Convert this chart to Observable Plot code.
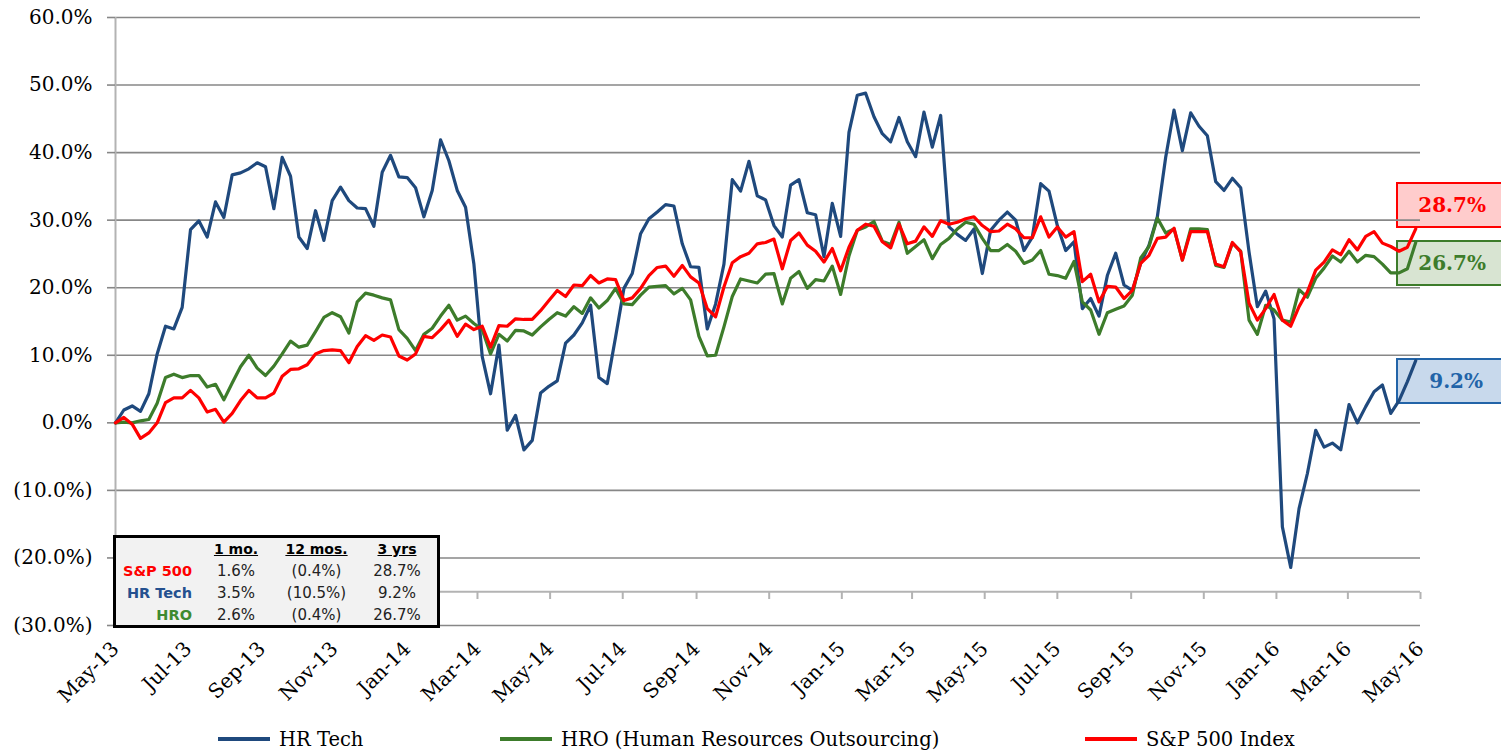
<!DOCTYPE html>
<html>
<head>
<meta charset="utf-8">
<script src="https://cdn.jsdelivr.net/npm/d3@7"></script>
<script src="https://cdn.jsdelivr.net/npm/@observablehq/plot@0.6"></script>
<style>
  body { margin: 0; background: #fff; }
  #wrap { position: relative; width: 1501px; height: 754px; overflow: hidden; font-family: "DejaVu Serif", serif; }
  #chart { position: absolute; left: 0; top: 0; z-index: 2; }
  .endbox { position: absolute; z-index: 1; box-sizing: border-box; width: 112px; height: 46px; border: 2px solid;
            font-weight: bold; font-size: 20px; line-height: 42px; padding-left: 20px; }
  #stats { position: absolute; z-index: 3; left: 113px; top: 535px; width: 327px; height: 93px; box-sizing: border-box;
           border: 3px solid #000; background: #f2f2f2; font-family: "DejaVu Sans", sans-serif; font-size: 15px;
           display: grid; grid-template-columns: 80px 80px 81px 80px; grid-auto-rows: 22px; align-items: center; color: #222; }
  #stats div { text-align: center; }
  #stats .lab { text-align: right; padding-right: 4px; font-weight: bold; font-size: 14.5px; }
  #stats .hd { font-weight: bold; text-decoration: underline; color: #000; font-size: 14px; }
  #legend { position: absolute; left: 0; top: 705px; width: 1501px; height: 49px; font-size: 19.5px; }
  #legend .item { position: absolute; top: 22px; display: flex; align-items: center; height: 24px; }
  #legend .sw { width: 52px; height: 4px; margin-right: 9px; }
</style>
</head>
<body>
<div id="wrap">
  <div id="chart"></div>
  <div id="stats"></div>
  <div id="legend"></div>
</div>
<script>
// weekly cumulative return (%) since May-2013
const hrTech = [
  0, 1.9, 2.5, 1.7, 4.3, 10.2, 14.3, 13.9, 17.1, 28.6,
  29.9, 27.5, 32.7, 30.4, 36.7, 37.0, 37.6, 38.5, 37.9, 31.7,
  39.3, 36.5, 27.5, 25.8, 31.4, 27.0, 32.9, 34.9, 32.9, 31.8,
  31.7, 29.1, 37.1, 39.6, 36.4, 36.3, 34.8, 30.5, 34.4, 41.9,
  38.8, 34.4, 31.9, 23.5, 9.8, 4.3, 11.5, -1.1, 1.1, -4.0,
  -2.6, 4.4, 5.4, 6.2, 11.8, 13.0, 14.8, 17.4, 6.7, 5.8,
  12.7, 19.9, 22.1, 28.0, 30.2, 31.2, 32.3, 32.1, 26.5, 23.1,
  23.0, 13.9, 17.6, 23.5, 36.0, 34.3, 38.7, 33.6, 33.0, 29.2,
  27.5, 35.2, 36.0, 31.1, 30.8, 24.6, 32.5, 27.6, 43.0, 48.5,
  48.8, 45.3, 42.8, 41.6, 45.2, 41.6, 39.4, 46.0, 40.8, 45.5,
  29.0, 27.9, 27.0, 28.7, 22.1, 28.5, 30.0, 31.2, 30.0, 25.5,
  27.5, 35.4, 34.3, 29.2, 25.5, 26.8, 16.9, 18.4, 15.8, 21.8,
  25.1, 20.4, 19.6, 23.6, 26.3, 30.5, 39.3, 46.3, 40.3, 45.9,
  43.9, 42.5, 35.7, 34.4, 36.2, 34.8, 25.3, 17.2, 19.5, 15.4,
  -15.4, -21.4, -12.7, -7.5, -1.1, -3.6, -3.0, -4.0, 2.7, 0.0,
  2.4, 4.6, 5.6, 1.4, 3.3, 6.1, 9.2
];
const hro = [
  0, 0.1, 0, 0.3, 0.5, 2.9, 6.7, 7.2, 6.7, 7.0,
  7.0, 5.3, 5.7, 3.4, 5.9, 8.3, 10.0, 8.1, 7.0, 8.4,
  10.2, 12.1, 11.2, 11.5, 13.5, 15.6, 16.3, 15.7, 13.3, 17.9,
  19.2, 18.9, 18.5, 18.2, 13.8, 12.5, 10.7, 13.1, 14.0, 15.8,
  17.4, 15.2, 15.8, 14.7, 13.8, 10.2, 13.1, 12.1, 13.7, 13.6,
  13.0, 14.2, 15.3, 16.3, 15.8, 17.2, 16.2, 18.5, 17.0, 18.1,
  19.9, 17.6, 17.5, 18.9, 20.1, 20.2, 20.3, 19.1, 19.9, 18.2,
  12.8, 9.9, 10.0, 14.2, 18.7, 21.3, 21.0, 20.7, 22.0, 22.1,
  17.6, 21.4, 22.4, 19.9, 21.2, 21.0, 23.2, 19.0, 24.7, 28.5,
  29.0, 29.8, 26.9, 26.4, 29.7, 25.1, 26.1, 27.1, 24.3, 26.4,
  27.3, 28.7, 29.7, 29.4, 27.3, 25.5, 25.5, 26.4, 25.4, 23.6,
  24.1, 25.5, 22.0, 21.8, 21.4, 23.9, 17.9, 16.7, 13.1, 16.3,
  16.8, 17.3, 18.9, 24.4, 26.1, 30.3, 28.1, 28.7, 24.1, 28.7,
  28.7, 28.6, 23.3, 23.0, 26.6, 25.4, 15.2, 13.1, 17.4, 16.7,
  15.2, 14.9, 19.7, 18.6, 21.4, 22.9, 24.7, 23.8, 25.4, 23.8,
  24.8, 24.6, 23.5, 22.2, 22.2, 22.8, 26.7
];
const sp500 = [
  0, 0.8, -0.2, -2.3, -1.5, 0, 3.0, 3.7, 3.7, 4.8,
  3.7, 1.6, 2.0, 0.1, 1.4, 3.3, 4.8, 3.7, 3.7, 4.4,
  6.9, 7.9, 8.0, 8.6, 10.2, 10.7, 10.8, 10.7, 8.9, 11.3,
  12.9, 12.2, 13.0, 12.7, 9.9, 9.3, 10.2, 12.8, 12.6, 13.8,
  15.2, 12.8, 14.6, 13.8, 14.3, 11.2, 14.4, 14.3, 15.4, 15.3,
  15.3, 16.6, 18.1, 19.6, 18.7, 20.4, 20.3, 21.8, 20.7, 21.3,
  21.2, 18.1, 18.5, 19.9, 21.8, 23.0, 23.2, 21.7, 23.3, 21.6,
  20.7, 16.9, 15.7, 20.1, 23.7, 24.6, 25.1, 26.5, 26.7, 27.2,
  22.8, 27.0, 28.1, 26.3, 25.4, 23.8, 25.8, 22.5, 26.0, 28.5,
  29.4, 29.1, 26.8, 25.9, 29.4, 26.5, 26.9, 29.0, 27.6, 29.9,
  29.4, 29.7, 30.2, 30.5, 29.2, 28.3, 28.4, 29.4, 28.7, 27.4,
  27.4, 30.5, 27.5, 29.0, 27.5, 28.3, 20.9, 22.0, 17.9, 20.2,
  20.1, 18.4, 19.6, 23.6, 24.8, 27.3, 27.5, 28.8, 24.1, 28.3,
  28.3, 28.3, 23.5, 23.1, 26.7, 25.3, 17.7, 15.2, 16.9, 19.0,
  15.2, 14.3, 17.2, 19.4, 22.6, 23.8, 25.6, 24.9, 27.1, 25.6,
  27.6, 28.3, 26.6, 26.1, 25.4, 26.0, 28.7
];

const seriesNames = ["HR Tech", "HRO (Human Resources Outsourcing)", "S&P 500 Index"];
const seriesColors = ["#1f497d", "#3d7c2b", "#ff0000"];
const boxFills = ["#c8d9ec", "#d8e4d2", "#ffcccc"];
const boxStrokes = ["#2264a8", "#3d7c2b", "#ff0000"];

// returns table
const statCols = ["1 mo.", "12 mos.", "3 yrs"];
const statRows = ["S&P 500", "HR Tech", "HRO"];
const statColors = ["#ff0000", "#24508f", "#3e8a30"];
const statVals = [
  ["1.6%", "(0.4%)", "28.7%"],
  ["3.5%", "(10.5%)", "9.2%"],
  ["2.6%", "(0.4%)", "26.7%"]
];

const xStart = new Date(Date.UTC(2013, 4, 1));
const xEnd = new Date(Date.UTC(2016, 4, 1));
const dates = hrTech.map((_, i) => d3.utcDay.offset(xStart, 7 * i));
const xTicks = d3.utcMonth.every(2).range(xStart, d3.utcDay.offset(xEnd, 1));
const yTicks = d3.range(-30, 61, 10);
const axisCross = -25;

const fmtPct = v => v < 0 ? `(${Math.abs(v).toFixed(1)}%)` : `${v.toFixed(1)}%`;

const allSeries = [hrTech, hro, sp500];
const rows = allSeries.flatMap((vals, s) => vals.map((v, i) => ({date: dates[i], value: v, name: seriesNames[s]})));

const chart = Plot.plot({
  width: 1501,
  height: 705,
  marginLeft: 115,
  marginRight: 81,
  marginTop: 17,
  marginBottom: 80,
  style: {background: "transparent", fontFamily: "DejaVu Serif, serif", color: "#000", overflow: "visible"},
  x: {type: "utc", domain: [xStart, xEnd]},
  y: {domain: [-30, 60]},
  color: {domain: seriesNames, range: seriesColors},
  marks: [
    Plot.gridY(yTicks, {stroke: "#878787", strokeOpacity: 1, strokeWidth: 1.6}),
    Plot.ruleX([xStart], {stroke: "#b3b3b3", strokeWidth: 2}),
    Plot.ruleY([axisCross], {stroke: "#b3b3b3", strokeWidth: 2}),
    Plot.axisX(xTicks, {tickSize: 7, fill: "none", dy: -33, stroke: "#b3b3b3", strokeWidth: 2}),
    Plot.axisX(xTicks, {tickSize: 0, tickPadding: 20, tickRotate: -45, fontSize: 20,
      tickFormat: d3.utcFormat("%b-%y"), label: null}),
    Plot.axisY(yTicks, {tickSize: 8, tickPadding: 15, stroke: "#878787", strokeWidth: 1.6, fontSize: 20,
      tickFormat: fmtPct, label: null}),
    Plot.line(rows, {x: "date", y: "value", z: "name", stroke: "name", strokeWidth: 3.2})
  ]
});
document.getElementById("chart").append(chart);

// end-of-series callouts positioned with the chart's scales
const xs = chart.scale("x"), ys = chart.scale("y");
const wrap = document.getElementById("wrap");
allSeries.forEach((vals, s) => {
  const last = vals[vals.length - 1];
  const px = xs.apply(dates[dates.length - 1]);
  const py = ys.apply(last);
  const box = document.createElement("div");
  box.className = "endbox";
  box.style.left = (px - 19) + "px";
  box.style.top = (s === 2 ? py - 46 : py - 2) + "px";
  box.style.background = boxFills[s];
  box.style.borderColor = boxStrokes[s];
  box.style.color = boxStrokes[s];
  box.style.paddingLeft = (last < 10 ? 31 : 20) + "px";
  box.textContent = last.toFixed(1) + "%";
  wrap.append(box);
});

// stats table
const stats = document.getElementById("stats");
stats.insertAdjacentHTML("beforeend", `<div></div>` + statCols.map(c => `<div class="hd">${c}</div>`).join(""));
statRows.forEach((r, i) => {
  stats.insertAdjacentHTML("beforeend",
    `<div class="lab" style="color:${statColors[i]}">${r}</div>` + statVals[i].map(v => `<div>${v}</div>`).join(""));
});

// legend
const legendX = [218, 500, 1085];
const legend = document.getElementById("legend");
seriesNames.forEach((n, i) => {
  legend.insertAdjacentHTML("beforeend",
    `<div class="item" style="left:${legendX[i]}px"><span class="sw" style="background:${seriesColors[i]}"></span><span>${n.replace("&", "&amp;")}</span></div>`);
});
</script>
</body>
</html>
